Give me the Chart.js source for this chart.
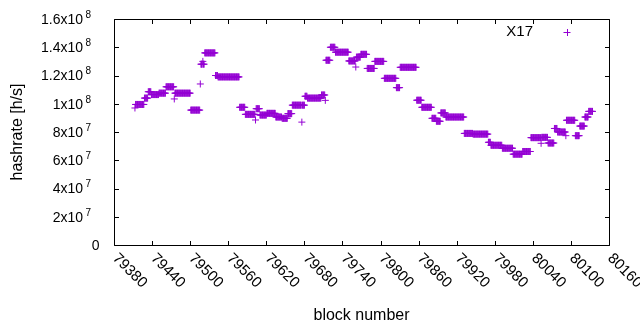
<!DOCTYPE html>
<html>
<head>
<meta charset="utf-8">
<script src="https://cdn.jsdelivr.net/npm/chart.js@4.4.1/dist/chart.umd.min.js"></script>
<style>
  html, body { margin: 0; padding: 0; background: #fff; }
  #wrap { width: 640px; height: 330px; }
</style>
</head>
<body>
<div id="wrap"><canvas id="chart"></canvas></div>
<script>
const segStart = [79413, 79414, 79428, 79434, 79439, 79451, 79462, 79475, 79476, 79501,
                  79516, 79517, 79520, 79521, 79523, 79540, 79544, 79578, 79587, 79603,
                  79604, 79610, 79621, 79635, 79645, 79654, 79661, 79676, 79677, 79681,
                  79685, 79707, 79713, 79714, 79721, 79729, 79750, 79761, 79762, 79769,
                  79779, 79791, 79806, 79825, 79831, 79857, 79865, 79881, 79888, 79895,
                  79903, 79932, 79946, 79970, 79974, 79992, 80009, 80024, 80037, 80053,
                  80054, 80064, 80074, 80079, 80092, 80093, 80107, 80114, 80122, 80128];
const segEnd   = [79413, 79427, 79433, 79438, 79450, 79461, 79474, 79475, 79500, 79515,
                  79516, 79519, 79520, 79522, 79539, 79543, 79577, 79586, 79602, 79603,
                  79609, 79620, 79634, 79644, 79653, 79660, 79675, 79676, 79680, 79684,
                  79706, 79712, 79713, 79720, 79728, 79749, 79760, 79761, 79768, 79778,
                  79790, 79805, 79824, 79830, 79856, 79864, 79880, 79887, 79894, 79902,
                  79931, 79945, 79969, 79973, 79991, 80008, 80023, 80036, 80052, 80053,
                  80063, 80073, 80078, 80091, 80092, 80106, 80113, 80121, 80127, 80134];
const segValue = [9.7e7, 9.95e7, 1.04e8, 1.085e8, 1.065e8, 1.075e8, 1.12e8, 1.034e8, 1.075e8, 9.55e7,
                  1.14e8, 1.28e8, 1.3e8, 1.28e8, 1.36e8, 1.2e8, 1.19e8, 9.75e7, 9.25e7, 8.85e7,
                  9.65e7, 9.2e7, 9.32e7, 9.06e7, 8.97e7, 9.3e7, 9.9e7, 8.7e7, 9.9e7, 1.053e8,
                  1.04e8, 1.062e8, 1.024e8, 1.308e8, 1.4e8, 1.365e8, 1.303e8, 1.26e8, 1.33e8, 1.35e8,
                  1.25e8, 1.3e8, 1.18e8, 1.114e8, 1.258e8, 1.025e8, 9.75e7, 8.97e7, 8.76e7, 9.35e7,
                  9.06e7, 7.9e7, 7.85e7, 7.27e7, 7.06e7, 6.85e7, 6.43e7, 6.62e7, 7.6e7, 7.2e7,
                  7.62e7, 7.22e7, 8.25e7, 8.0e7, 7.74e7, 8.83e7, 7.74e7, 8.42e7, 9.06e7, 9.46e7];

const xTicks = [79380, 79440, 79500, 79560, 79620, 79680, 79740, 79800,
                79860, 79920, 79980, 80040, 80100, 80160];
const yTicks = [0, 2e7, 4e7, 6e7, 8e7, 1e8, 1.2e8, 1.4e8, 1.6e8];
const yTickBase = ['0', '2x10', '4x10', '6x10', '8x10', '1x10', '1.2x10', '1.4x10', '1.6x10'];
const yTickExp = ['', '7', '7', '7', '7', '8', '8', '8', '8'];

const seriesName = 'X17';
const xTitle = 'block number';
const yTitle = 'hashrate [h/s]';
const violet = '#9400d3';
const FONT = '"Liberation Sans", Arial, sans-serif';

// one point per block
const points = [];
segStart.forEach((s, i) => {
    for (let b = s; b <= segEnd[i]; b++) points.push({ x: b, y: segValue[i] });
});

// gnuplot-like frame, inward ticks, labels and key
const frame = {
    id: 'frame',
    afterDraw(chart) {
        const ctx = chart.ctx;
        const a = chart.chartArea;
        const xs = chart.scales.x, ys = chart.scales.y;
        const L = Math.round(a.left) + 0.5, R = Math.round(a.right) + 0.5;
        const T = Math.round(a.top) + 0.5, B = Math.round(a.bottom) + 0.5;
        const tick = 4.5;

        ctx.save();
        ctx.strokeStyle = '#000';
        ctx.lineWidth = 1;
        ctx.beginPath();
        ctx.rect(L, T, R - L, B - T);
        xTicks.forEach(v => {
            const px = Math.round(xs.getPixelForValue(v)) + 0.5;
            ctx.moveTo(px, B); ctx.lineTo(px, B - tick);
            ctx.moveTo(px, T); ctx.lineTo(px, T + tick);
        });
        yTicks.forEach(v => {
            const py = Math.round(ys.getPixelForValue(v)) + 0.5;
            ctx.moveTo(L, py); ctx.lineTo(L + tick, py);
            ctx.moveTo(R, py); ctx.lineTo(R - tick, py);
        });
        ctx.stroke();

        ctx.fillStyle = '#000';
        // y tick labels with raised exponent
        yTicks.forEach((v, i) => {
            const py = ys.getPixelForValue(v);
            ctx.textBaseline = 'middle';
            if (yTickExp[i]) {
                ctx.font = '14px ' + FONT;
                ctx.textAlign = 'right';
                ctx.fillText(yTickBase[i], 83, py + 1);
                ctx.font = '10px ' + FONT;
                ctx.textAlign = 'left';
                ctx.fillText(yTickExp[i], 85.5, py - 4);
            } else {
                ctx.font = '14px ' + FONT;
                ctx.textAlign = 'right';
                ctx.fillText(yTickBase[i], 99.5, py + 1);
            }
        });

        // x tick labels, rotated 45 degrees clockwise
        ctx.font = '15px ' + FONT;
        ctx.textAlign = 'left';
        ctx.textBaseline = 'middle';
        xTicks.forEach(v => {
            const px = xs.getPixelForValue(v);
            ctx.save();
            ctx.translate(px + 1, 256);
            ctx.rotate(Math.PI / 4);
            ctx.fillText(String(v), 0, 0);
            ctx.restore();
        });

        // axis titles
        ctx.font = '16px ' + FONT;
        ctx.textAlign = 'center';
        ctx.fillText(xTitle, (a.left + a.right) / 2, 316);
        ctx.save();
        ctx.translate(18, (a.top + a.bottom) / 2);
        ctx.rotate(-Math.PI / 2);
        ctx.fillText(yTitle, 0, 0);
        ctx.restore();

        // key
        ctx.font = '15px ' + FONT;
        ctx.textAlign = 'right';
        ctx.fillText(seriesName, 533, 32);
        ctx.strokeStyle = violet;
        ctx.beginPath();
        ctx.moveTo(563.5, 32.5); ctx.lineTo(570.5, 32.5);
        ctx.moveTo(567.5, 29); ctx.lineTo(567.5, 36);
        ctx.stroke();
        ctx.restore();
    }
};

new Chart(document.getElementById('chart'), {
    type: 'scatter',
    data: {
        datasets: [{
            label: seriesName,
            data: points,
            pointStyle: 'cross',
            pointRadius: 3.5,
            pointBorderWidth: 1,
            borderColor: violet,
            backgroundColor: violet
        }]
    },
    options: {
        responsive: true,
        maintainAspectRatio: false,
        animation: false,
        layout: { padding: { left: 114, right: 31, top: 19, bottom: 85 } },
        plugins: { legend: { display: false }, tooltip: { enabled: false } },
        scales: {
            x: { type: 'linear', min: 79380, max: 80160, display: false },
            y: { min: 0, max: 1.6e8, display: false }
        }
    },
    plugins: [frame]
});
</script>
</body>
</html>
